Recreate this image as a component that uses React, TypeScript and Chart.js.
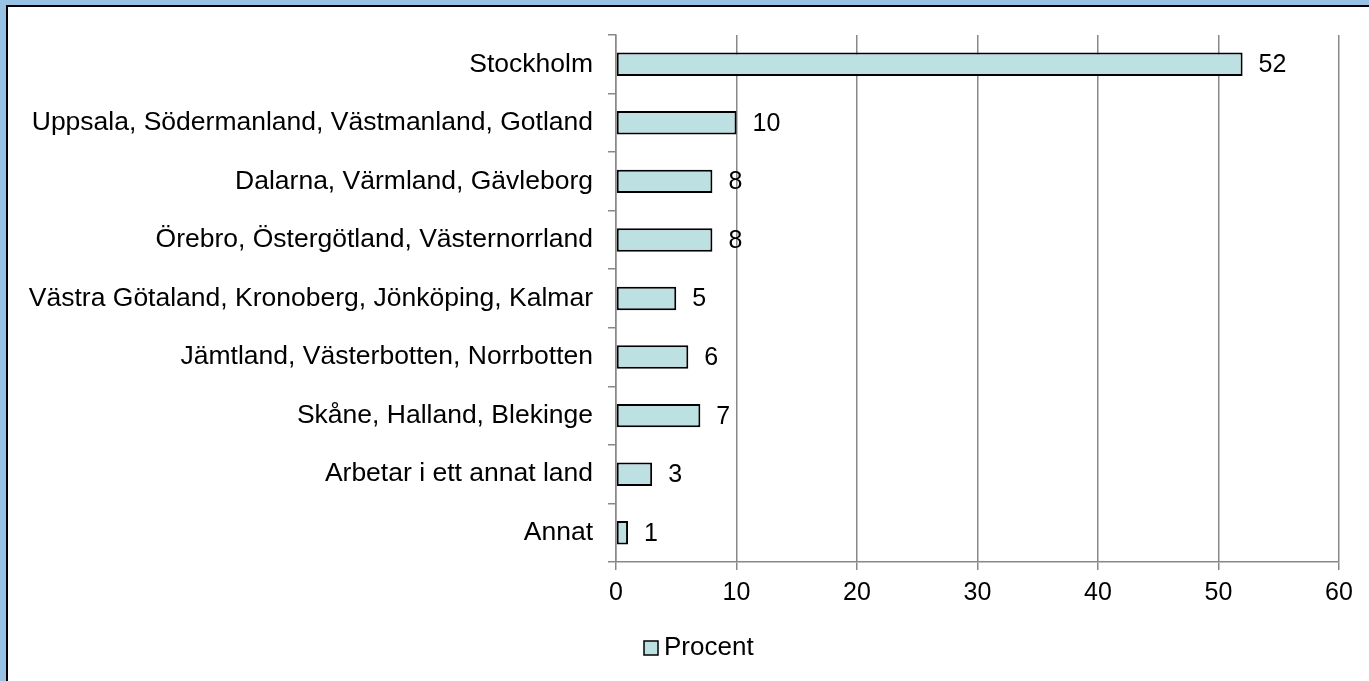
import React, { useEffect, useRef } from "react";
import { Chart, registerables } from "chart.js";

Chart.register(...registerables);

const categories = [
  "Stockholm",
  "Uppsala, Södermanland, Västmanland, Gotland",
  "Dalarna, Värmland, Gävleborg",
  "Örebro, Östergötland, Västernorrland",
  "Västra Götaland, Kronoberg, Jönköping, Kalmar",
  "Jämtland, Västerbotten, Norrbotten",
  "Skåne, Halland, Blekinge",
  "Arbetar i ett annat land",
  "Annat",
];
const procent = [52, 10, 8, 8, 5, 6, 7, 3, 1];
const seriesLabel = "Procent";
const xMin = 0;
const xMax = 60;
const xStep = 10;

const FONT = "'Liberation Sans', Arial, sans-serif";
const BAR_FILL = "#BDE1E3";
const GRID = "#888888";

const valueLabels = {
  id: "valueLabels",
  afterDatasetsDraw(chart: any) {
    const ctx = chart.ctx;
    const meta = chart.getDatasetMeta(0);
    const data = chart.data.datasets[0].data;
    ctx.save();
    ctx.font = `25px ${FONT}`;
    ctx.fillStyle = "#000";
    ctx.textAlign = "left";
    ctx.textBaseline = "middle";
    meta.data.forEach((el: any, i: number) => {
      ctx.fillText(String(data[i]), el.x + 16, el.y + 1);
    });
    ctx.restore();
  },
};

const customLegend = {
  id: "customLegend",
  afterDraw(chart: any) {
    const ctx = chart.ctx;
    const ds = chart.data.datasets[0];
    const boxX = 644;
    const cy = 648;
    const size = 14;
    ctx.save();
    ctx.fillStyle = ds.backgroundColor;
    ctx.fillRect(boxX, cy - size / 2, size, size);
    ctx.strokeStyle = "#000";
    ctx.lineWidth = 1.5;
    ctx.strokeRect(boxX, cy - size / 2, size, size);
    ctx.font = `26px ${FONT}`;
    ctx.fillStyle = "#000";
    ctx.textAlign = "left";
    ctx.textBaseline = "middle";
    ctx.fillText(ds.label, boxX + size + 6, cy);
    ctx.restore();
  },
};

export default function App() {
  const ref = useRef<HTMLCanvasElement>(null);
  useEffect(() => {
    if (!ref.current) return;
    const chart = new Chart(ref.current, {
      type: "bar",
      data: {
        labels: categories,
        datasets: [
          {
            label: seriesLabel,
            data: procent,
            backgroundColor: BAR_FILL,
            borderColor: "#000",
            borderWidth: 2,
            borderSkipped: false,
            barPercentage: 0.4,
            categoryPercentage: 1,
          },
        ],
      },
      options: {
        indexAxis: "y",
        animation: false,
        responsive: false,
        maintainAspectRatio: false,
        layout: { padding: { top: 35, right: 30, left: 0, bottom: 0 } },
        plugins: {
          legend: { display: false },
          tooltip: { enabled: false },
          title: { display: false },
        },
        scales: {
          x: {
            type: "linear",
            min: xMin,
            max: xMax,
            ticks: {
              stepSize: xStep,
              color: "#000",
              font: { family: FONT, size: 25 },
              padding: 8,
            },
            grid: {
              color: GRID,
              lineWidth: 1.5,
              drawTicks: true,
              tickLength: 8,
            },
            border: { display: true, color: GRID, width: 1.5 },
            afterFit(scale: any) {
              scale.height = 119;
            },
          },
          y: {
            type: "category",
            ticks: {
              color: "#000",
              font: { family: FONT, size: 26.5 },
              padding: 15,
              autoSkip: false,
            },
            grid: {
              offset: true,
              drawOnChartArea: false,
              drawTicks: true,
              tickLength: 8,
              color: GRID,
              lineWidth: 1.5,
            },
            border: { display: true, color: GRID, width: 1.5 },
            afterFit(scale: any) {
              scale.width = 616;
            },
          },
        },
      },
      plugins: [valueLabels, customLegend],
    });
    return () => chart.destroy();
  }, []);

  return (
    <div
      style={{
        position: "fixed",
        left: 0,
        top: 0,
        width: 1369,
        height: 681,
        background: "#fff",
        overflow: "hidden",
      }}
    >
      <div style={{ position: "absolute", left: 0, top: 0, width: 1369, height: 5, background: "#95C2E5" }} />
      <div style={{ position: "absolute", left: 0, top: 0, width: 6, height: 681, background: "#95C2E5" }} />
      <div style={{ position: "absolute", left: 6, top: 5, width: 1363, height: 2, background: "#000" }} />
      <div style={{ position: "absolute", left: 6, top: 5, width: 2, height: 676, background: "#000" }} />
      <canvas
        ref={ref}
        width={1369}
        height={681}
        style={{ position: "absolute", left: 0, top: 0, width: 1369, height: 681 }}
      />
    </div>
  );
}
